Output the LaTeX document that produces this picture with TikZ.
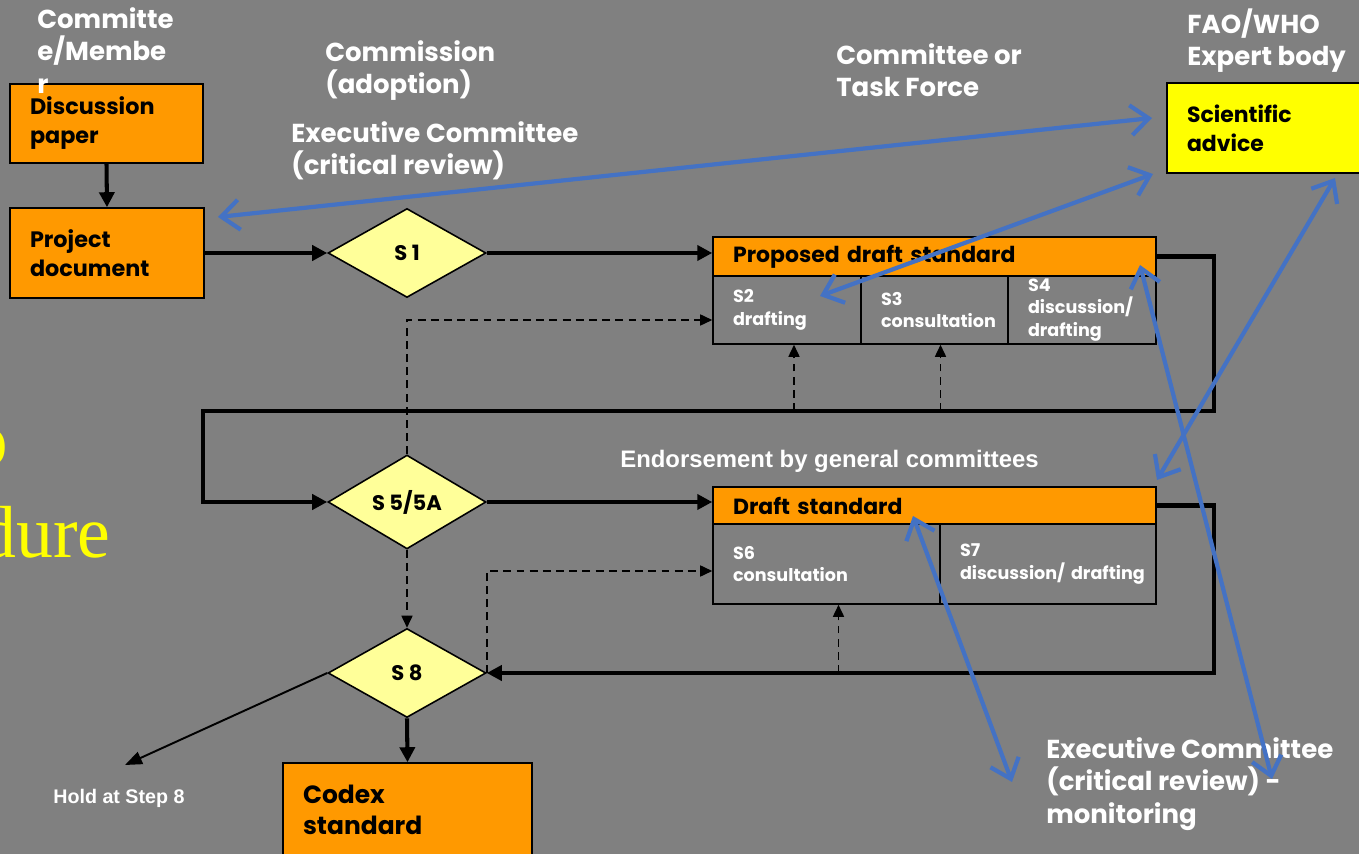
\documentclass[tikz,border=0pt]{standalone}
\usepackage{fontspec}
\setmainfont{Poppins}
\newfontfamily\arialfont{Liberation Sans}
\newfontfamily\timesfont{Liberation Serif}
\usetikzlibrary{shapes.geometric,arrows.meta,calc}

\definecolor{bggray}{HTML}{808080}
\definecolor{codexorange}{HTML}{FF9900}
\definecolor{stepyellow}{HTML}{FFFF99}
\definecolor{adviceyellow}{HTML}{FFFF00}
\definecolor{linkblue}{HTML}{4472C4}

\tikzset{
  orangebox/.style={draw=black, fill=codexorange, line width=0.9pt, align=left, inner xsep=0.4cm, inner ysep=0pt, font=\bfseries\fontsize{12.7}{16.5}\selectfont},
  headbox/.style={draw=black, fill=codexorange, line width=0.9pt, align=left, inner xsep=0.4cm, inner ysep=0pt, font=\bfseries\fontsize{12.5}{15}\selectfont},
  cellbox/.style={draw=black, fill=bggray, line width=0.9pt, text=white, align=left, inner xsep=0.4cm, inner ysep=0pt, font=\bfseries\fontsize{10}{13}\selectfont},
  stepdiamond/.style={diamond, draw=black, fill=stepyellow, line width=0.9pt, inner sep=0pt, minimum width=3.16cm, minimum height=1.78cm, font=\bfseries\fontsize{12}{14}\selectfont},
  rolelabel/.style={text=white, align=left, anchor=north west, inner sep=0pt, font=\bfseries\fontsize{14.8}{18.6}\selectfont},
  flowarrow/.style={line width=2.3pt, -{Triangle[length=3mm,width=3mm]}},
  dasharrow/.style={line width=0.9pt, dash pattern=on 4.5pt off 3pt, -{Triangle[length=2.4mm,width=2.2mm]}},
  holdarrow/.style={line width=1.1pt, -{Triangle[length=3.4mm,width=2.6mm]}},
  linkarrow/.style={linkblue, line width=2.4pt, {Straight Barb[length=3.6mm,width=6mm]}-{Straight Barb[length=3.6mm,width=6mm]}}
}

\begin{document}
\begin{tikzpicture}[x=0.02cm, y=-0.02cm]
    % Frame and background
    \useasboundingbox (0,0) rectangle (1359,854);
    \clip (0,0) rectangle (1359,854);
    \fill[bggray] (0,0) rectangle (1359,854);

    % Clipped title pieces at the left edge
    \node[text=adviceyellow, font=\timesfont\fontsize{44}{44}\selectfont, anchor=base east, inner sep=0pt] (titleA) at (9,466) {o};
    \node[text=adviceyellow, font=\timesfont\fontsize{42}{42}\selectfont, anchor=base west, inner sep=0pt] (titleB) at (-21,558) {dure};

    % Left boxes
    \node[orangebox, minimum width=3.86cm, minimum height=1.58cm, text width=3.06cm] (disc) at (106.5,123.5) {Discussion\\paper};
    \node[orangebox, minimum width=3.88cm, minimum height=1.8cm, text width=3.08cm] (proj) at (107,253) {Project\\document};
    \node[orangebox, font=\bfseries\fontsize{14.2}{17.6}\selectfont, minimum width=4.98cm, minimum height=1.86cm, text width=4.18cm] (codex) at (407.5,809.5) {Codex\\standard};
    \node[orangebox, fill=adviceyellow, font=\bfseries\fontsize{12.5}{16.5}\selectfont, minimum width=3.96cm, minimum height=1.8cm, text width=3.16cm] (advice) at (1266,128) {Scientific\\advice};

    % Step diamonds
    \node[stepdiamond] (s1) at (407,253) {S 1};
    \node[stepdiamond] (s5) at (407,502) {S 5/5A};
    \node[stepdiamond] (s8) at (407,673) {S 8};

    % Proposed draft standard with steps 2 to 4
    \node[headbox, minimum width=8.86cm, minimum height=0.78cm, text width=8.06cm] (pds) at (934.5,256.5) {Proposed draft standard};
    \node[cellbox, minimum width=2.96cm, minimum height=1.36cm, text width=2.16cm] (s2) at (787,310) {S2\\drafting};
    \node[cellbox, minimum width=2.94cm, minimum height=1.36cm, text width=2.14cm] (s3) at (934.5,310) {S3\\consultation};
    \node[cellbox, minimum width=2.96cm, minimum height=1.36cm, text width=2.16cm] (s4) at (1082,310) {S4\\discussion/\\drafting};

    % Draft standard with steps 6 and 7
    \node[headbox, minimum width=8.86cm, minimum height=0.74cm, text width=8.06cm] (ds) at (934.5,505.5) {Draft standard};
    \node[cellbox, minimum width=4.54cm, minimum height=1.6cm, text width=3.74cm] (s6) at (826.5,564) {S6\\consultation};
    \node[cellbox, minimum width=4.32cm, minimum height=1.6cm, text width=3.52cm] (s7) at (1048,564) {S7\\\mbox{discussion/ drafting}};

    % Corners of the return loops
    \coordinate (loopA) at (1214,411);
    \coordinate (loopB) at (203,411);
    \coordinate (loopC) at (1214,673);
    \coordinate (holdtip) at (125,765);

    % Main flow
    \draw[flowarrow] (disc.south) -- (proj.north);
    \draw[flowarrow] (proj.east) -- (s1.west);
    \draw[flowarrow] (s1.east) -- (s1.east -| pds.west);
    \draw[flowarrow] (pds.east) -| (loopA) -- (loopB) |- (s5.west);
    \draw[flowarrow] (s5.east) -- (s5.east -| ds.west);
    \draw[flowarrow] (ds.east) -| (loopC) -- (s8.east);
    \draw[flowarrow] (s8.south) -- (codex.north);
    \draw[holdarrow] (s8.west) -- (holdtip);

    % Dashed side routes
    \draw[dasharrow] (s5.north) |- ($(s2.west)+(0,10)$);
    \draw[dasharrow] ($(s2.south |- loopA)+(7,0)$) -- ($(s2.south)+(7,0)$);
    \draw[dasharrow] ($(s3.south |- loopA)+(6,0)$) -- ($(s3.south)+(6,0)$);
    \draw[dasharrow] ($(s6.south |- loopC)+(12,0)$) -- ($(s6.south)+(12,0)$);
    \draw[dasharrow] (s5.south) -- (s8.north);
    \draw[dasharrow] (s8.east) |- ($(s6.west)+(0,7)$);

    % Who does what
    \node[rolelabel] (member) at (37,7) {Committe\\e/Membe\\r};
    \node[rolelabel] (commission) at (325,40) {Commission\\(adoption)};
    \node[rolelabel] (execrev) at (291,121) {Executive Committee\\(critical review)};
    \node[rolelabel] (taskforce) at (836,43) {Committee or\\Task Force};
    \node[rolelabel] (expert) at (1187,8) {FAO/WHO\\Expert body};
    \node[rolelabel] (monitor) at (1046,737) {Executive Committee\\(critical review) -\\monitoring};
    \node[rolelabel, font=\arialfont\bfseries\fontsize{13.6}{16}\selectfont] (endorse) at (620,450) {Endorsement by general committees};
    \node[rolelabel, font=\arialfont\bfseries\fontsize{11.2}{13}\selectfont] (hold) at (53,789) {Hold at Step 8};

    % Links to the expert body and the Executive Committee
    \coordinate (advA) at (1152,118);
    \coordinate (advB) at (1153,174);
    \coordinate (advC) at (1335,178);
    \coordinate (projA) at (218,217);
    \coordinate (draftA) at (820,296);
    \coordinate (dsA) at (1157,480);
    \coordinate (pdsA) at (1140,265);
    \coordinate (monA) at (1272,779);
    \coordinate (dsB) at (913,516);
    \coordinate (monB) at (1012,782);
    \draw[linkarrow] (projA) -- (advA);
    \draw[linkarrow] (draftA) -- (advB);
    \draw[linkarrow] (dsA) -- (advC);
    \draw[linkarrow] (pdsA) -- (monA);
    \draw[linkarrow] (dsB) -- (monB);
\end{tikzpicture}
\end{document}
